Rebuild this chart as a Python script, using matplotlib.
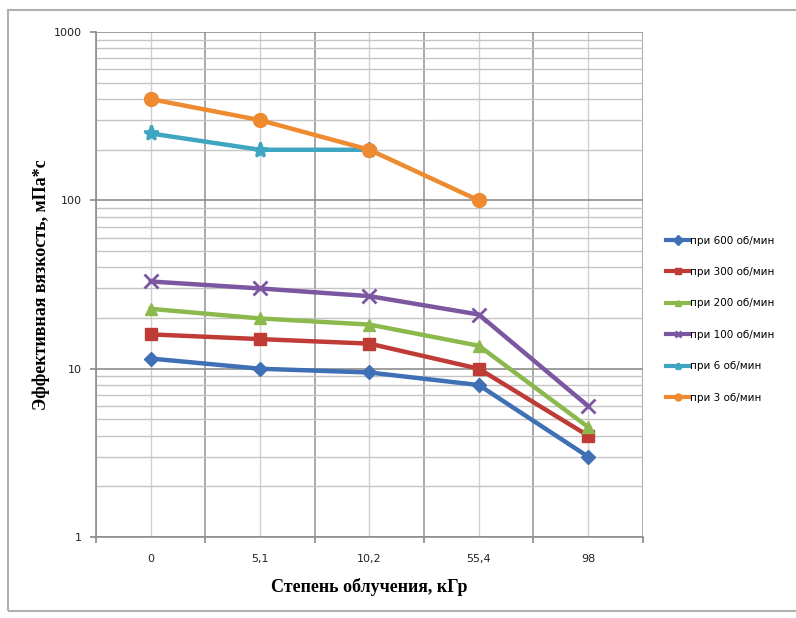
import matplotlib.pyplot as plt
from matplotlib.patches import Rectangle
from matplotlib.ticker import LogLocator, NullFormatter

# Степень облучения, кГр
doses = ['0', '5,1', '10,2', '55,4', '98']

# Эффективная вязкость, мПа*с, при разных скоростях вращения
v600 = [11.5, 10.0, 9.5, 8.0, 3.0]
v300 = [16.0, 15.0, 14.1, 10.0, 4.0]
v200 = [22.7, 19.9, 18.3, 13.7, 4.5]
v100 = [33.0, 30.0, 27.0, 21.0, 6.0]
v6 = [250, 200, 200]
v3 = [400, 300, 200, 100]

labels = ['при 600 об/мин', 'при 300 об/мин', 'при 200 об/мин',
          'при 100 об/мин', 'при 6 об/мин', 'при 3 об/мин']

fig = plt.figure(figsize=(7.96, 6.18), dpi=100)
ax = fig.add_axes([0.1206, 0.131, 0.687, 0.817])

# рамка области диаграммы
fig.patches.append(Rectangle((8 / 796, 0.012), 1.0, 0.972, transform=fig.transFigure,
                             fill=False, edgecolor='#b0b0b0', linewidth=1.5))

x = list(range(len(doses)))
series = [
    (v600, '#3f6fb4', 'D', 7),
    (v300, '#be3b36', 's', 9),
    (v200, '#8cb94e', '^', 9),
    (v100, '#7a57a0', 'x', 10),
    (v6, '#3fa6c2', '*', 11),
    (v3, '#ee8a2f', 'o', 10),
]
for (vals, col, mk, ms), lab in zip(series, labels):
    ax.plot(x[:len(vals)], vals, color=col, lw=3.2, marker=mk, ms=ms,
            mew=2 if mk in 'x*' else 1, mec=col, mfc=col, label=lab, zorder=3)

ax.set_yscale('log')
ax.set_ylim(1, 1000)
ax.set_xlim(-0.5, len(doses) - 0.5)

ax.yaxis.set_major_locator(LogLocator(base=10, numticks=10))
ax.yaxis.set_minor_locator(LogLocator(base=10, subs=range(2, 10), numticks=20))
ax.yaxis.set_minor_formatter(NullFormatter())
ax.set_yticks([1, 10, 100, 1000], ['1', '10', '100', '1000'])

ax.set_xticks([i - 0.5 for i in range(len(doses) + 1)], [''] * (len(doses) + 1))
ax.set_xticks(x, doses, minor=True)

ax.grid(which='major', axis='y', color='#8e8e8e', lw=1.2)
ax.grid(which='minor', axis='y', color='#c4c4c4', lw=1.0)
ax.grid(which='major', axis='x', color='#9a9a9a', lw=1.2)
ax.grid(which='minor', axis='x', color='#d0d0d0', lw=1.0)
ax.set_axisbelow(True)

ax.tick_params(axis='both', which='major', labelsize=8, colors='#888888',
               labelcolor='#222222', length=4, width=1.2)
ax.tick_params(axis='y', which='major', pad=6)
ax.tick_params(axis='y', which='minor', length=0)
ax.tick_params(axis='x', which='minor', length=0, pad=12, labelsize=8,
               labelcolor='#222222')

for s in ['top', 'right']:
    ax.spines[s].set_visible(False)
for s in ['left', 'bottom']:
    ax.spines[s].set_color('#8e8e8e')
    ax.spines[s].set_linewidth(1.2)

ax.set_xlabel('Степень облучения, кГр', family='Liberation Serif',
              fontweight='bold', fontsize=13, labelpad=10)
ax.set_ylabel('Эффективная вязкость, мПа*с', family='Liberation Serif',
              fontweight='bold', fontsize=13, labelpad=3)

leg = ax.legend(loc='upper left', bbox_to_anchor=(1.035, 0.605), frameon=False,
                fontsize=7.5, labelspacing=2.05, handlelength=2.2,
                handletextpad=0.1, borderaxespad=0)
for h in leg.legend_handles:
    h.set_markersize(5)
    h.set_linewidth(3)

fig.savefig('out.png', dpi=100)
